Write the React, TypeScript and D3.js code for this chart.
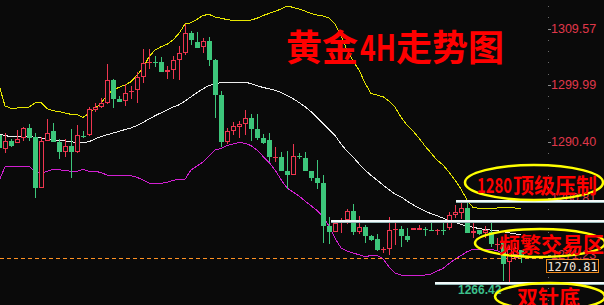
import React from "react";
import * as d3 from "d3";

// Gold 4H candles, index -1 .. 86 (left to right)
const firstIndex = -1;

const opens = [
  1291.51, 1289.19, 1290.49, 1290.21, 1291.0, 1292.7, 1291.17, 1282.58, 1290.54, 1292.19,
  1290.32, 1288.68, 1289.65, 1288.68, 1291.37, 1291.51, 1295.75, 1296.21, 1296.89, 1300.84,
  1297.61, 1297.33, 1298.75, 1299.09, 1301.4, 1303.72, 1303.89, 1303.84, 1302.24, 1302.53,
  1304.23, 1305.36, 1308.75, 1307.28, 1306.48, 1307.45, 1304.23, 1298.29, 1290.37, 1292.24,
  1292.92, 1293.41, 1294.36, 1292.53, 1291.05, 1290.66, 1287.61, 1287.83, 1285.46, 1284.78,
  1287.9, 1287.56, 1285.46, 1284.22, 1283.32, 1276.08, 1275.12, 1276.96, 1277.18, 1278.62,
  1275.12, 1275.86, 1274.35, 1273.88, 1272.01, 1272.1, 1275.44, 1275.52, 1274.39, 1275.4,
  1275.4, 1275.61, 1275.44, 1275.32, 1275.45, 1275.74, 1277.95, 1278.24, 1279.08, 1274.95,
  1275.4, 1274.84, 1275.12, 1272.89, 1273.15, 1269.98, 1271.25, 1272.01,
];
const highs = [
  1291.68, 1291.85, 1290.83, 1292.36, 1292.92, 1293.38, 1291.85, 1291.22, 1294.22, 1293.55,
  1290.83, 1290.83, 1292.53, 1293.21, 1292.19, 1296.21, 1296.94, 1297.78, 1303.55, 1301.01,
  1298.12, 1300.11, 1299.82, 1302.24, 1306.09, 1306.04, 1304.91, 1304.79, 1303.21, 1304.91,
  1306.6, 1310.33, 1309.19, 1308.97, 1308.01, 1308.21, 1304.4, 1298.97, 1292.75, 1293.8,
  1293.97, 1295.75, 1294.99, 1295.07, 1291.6, 1291.9, 1289.53, 1288.68, 1288.8, 1289.98,
  1288.51, 1288.68, 1285.46, 1287.27, 1284.73, 1277.66, 1276.93, 1277.52, 1278.91, 1279.81,
  1277.78, 1276.17, 1274.56, 1274.69, 1272.57, 1277.66, 1276.81, 1276.08, 1275.69, 1275.74,
  1276.25, 1275.96, 1276.81, 1275.52, 1276.93, 1278.51, 1279.64, 1279.93, 1279.9, 1276.54,
  1275.4, 1276.08, 1276.54, 1274.0, 1273.15, 1272.69, 1272.57, 1272.01,
];
const lows = [
  1289.14, 1288.46, 1289.53, 1290.15, 1290.54, 1290.54, 1280.88, 1282.5, 1290.54, 1290.27,
  1287.49, 1287.83, 1284.27, 1288.41, 1290.95, 1291.39, 1295.41, 1296.04, 1296.77, 1296.14,
  1297.16, 1296.48, 1297.61, 1296.99, 1300.38, 1302.65, 1303.09, 1302.24, 1301.01, 1300.95,
  1300.84, 1305.07, 1306.77, 1306.26, 1305.46, 1303.21, 1294.39, 1289.48, 1289.98, 1291.51,
  1291.05, 1291.43, 1290.58, 1290.66, 1289.98, 1286.98, 1286.98, 1285.46, 1282.36, 1284.7,
  1287.44, 1285.46, 1283.76, 1282.36, 1273.25, 1273.03, 1275.12, 1274.95, 1276.34, 1274.56,
  1274.73, 1273.15, 1273.62, 1271.89, 1271.55, 1271.16, 1272.86, 1272.57, 1273.42, 1275.37,
  1275.37, 1274.39, 1275.28, 1274.56, 1274.56, 1275.4, 1277.39, 1277.27, 1274.84, 1274.0,
  1274.56, 1274.0, 1272.57, 1272.01, 1266.84, 1266.42, 1270.32, 1269.81,
];
const closes = [
  1289.31, 1290.49, 1289.65, 1290.83, 1292.7, 1291.0, 1282.58, 1290.54, 1291.85, 1290.27,
  1288.68, 1289.65, 1288.68, 1291.51, 1291.29, 1295.87, 1296.21, 1296.89, 1300.84, 1297.61,
  1297.16, 1298.58, 1298.97, 1301.29, 1303.67, 1303.89, 1303.72, 1302.24, 1302.53, 1304.23,
  1305.41, 1308.75, 1307.62, 1306.31, 1307.45, 1304.23, 1298.29, 1290.37, 1292.19, 1293.04,
  1293.43, 1294.36, 1292.53, 1291.05, 1290.21, 1287.7, 1287.78, 1285.46, 1284.78, 1287.95,
  1287.78, 1285.46, 1284.22, 1283.37, 1276.08, 1275.12, 1276.54, 1277.1, 1278.62, 1275.12,
  1275.86, 1274.44, 1273.79, 1272.01, 1272.13, 1275.4, 1275.57, 1274.39, 1273.71, 1275.69,
  1275.69, 1275.52, 1275.35, 1275.4, 1275.35, 1277.95, 1278.51, 1279.08, 1274.84, 1275.23,
  1274.67, 1275.4, 1272.98, 1273.03, 1269.64, 1272.18, 1272.35, 1270.81,
];

// Bollinger bands, one value per candle
const upperBand = [
  1299.99, 1296.43, 1296.04, 1296.09, 1296.14, 1296.26, 1296.94, 1297.06, 1296.0, 1295.63,
  1295.5, 1295.24, 1295.02, 1295.02, 1294.51, 1295.19, 1296.04, 1296.89, 1298.29, 1299.14,
  1299.6, 1299.99, 1300.55, 1301.68, 1302.82, 1304.79, 1305.92, 1306.48, 1306.89, 1307.62,
  1308.75, 1310.33, 1310.55, 1311.13, 1311.77, 1311.98, 1311.52, 1311.3, 1311.09, 1310.92,
  1310.89, 1310.89, 1311.01, 1311.3, 1311.77, 1312.11, 1312.48, 1312.87, 1313.38, 1313.16,
  1312.87, 1312.53, 1312.11, 1311.86, 1311.69, 1311.35, 1310.33, 1308.3, 1305.92, 1304.06,
  1302.53, 1300.33, 1298.55, 1298.29, 1298.0, 1297.28, 1296.26, 1294.56, 1293.21, 1292.19,
  1291.0, 1289.65, 1288.46, 1287.27, 1286.42, 1285.24, 1283.88, 1282.36, 1280.49, 1279.22,
  1279.08, 1279.08, 1279.08, 1279.13, 1279.22, 1279.22, 1279.13, 1279.05,
];
const middleBand = [
  1291.68, 1291.43, 1291.22, 1291.22, 1291.22, 1291.22, 1291.14, 1291.04, 1290.76, 1290.68,
  1290.6, 1290.49, 1290.36, 1290.26, 1290.21, 1290.39, 1290.83, 1291.27, 1291.54, 1291.83,
  1292.14, 1292.43, 1292.71, 1293.12, 1293.63, 1294.24, 1294.77, 1295.27, 1295.78, 1296.26,
  1296.63, 1297.28, 1297.99, 1298.7, 1299.34, 1299.9, 1300.19, 1300.4, 1300.45, 1300.45,
  1300.45, 1300.45, 1300.24, 1299.87, 1299.58, 1299.34, 1299.11, 1298.72, 1298.24, 1297.68,
  1297.04, 1296.31, 1295.48, 1294.51, 1293.49, 1292.48, 1291.44, 1289.98, 1288.8, 1287.78,
  1286.64, 1285.58, 1284.66, 1283.88, 1283.03, 1282.27, 1281.47, 1281.03, 1280.32, 1279.68,
  1279.13, 1278.62, 1278.18, 1277.83, 1277.44, 1277.0, 1276.68, 1276.35, 1276.1, 1275.86,
  1275.66, 1275.49, 1275.39, 1275.28, 1275.12, 1274.93, 1274.76, 1274.56,
];
const lowerBand = [
  1283.71, 1286.14, 1286.25, 1286.25, 1286.25, 1286.25, 1285.29, 1285.02, 1285.32, 1285.7,
  1285.61, 1285.53, 1285.36, 1285.36, 1285.7, 1285.36, 1285.36, 1285.15, 1284.73, 1284.73,
  1284.73, 1284.69, 1284.59, 1284.34, 1283.88, 1283.37, 1283.32, 1283.32, 1283.49, 1283.8,
  1284.0, 1284.0, 1285.58, 1286.25, 1286.93, 1287.95, 1288.97, 1289.22, 1289.71, 1289.98,
  1290.24, 1290.1, 1289.73, 1288.97, 1287.9, 1286.88, 1285.58, 1283.97, 1282.52, 1281.85,
  1281.17, 1280.32, 1279.52, 1278.74, 1277.66, 1276.08, 1274.0, 1272.38, 1271.84, 1271.5,
  1271.22, 1270.88, 1271.08, 1271.1, 1270.52, 1269.16, 1268.11, 1267.77, 1267.77, 1267.77,
  1267.77, 1267.77, 1267.94, 1268.45, 1268.88, 1269.71, 1270.44, 1271.08, 1271.72, 1272.13,
  1272.13, 1272.13, 1272.13, 1271.89, 1271.5, 1271.06, 1270.79, 1270.57,
];

// Price axis
const axisTicks = [1309.57, 1299.99, 1290.4, 1280.81, 1271.23];
const lastPrice = 1270.81;
const pinLow = 1266.42;

// Drawn support / resistance levels (price, starting candle index)
const levelPrices = [1280.25, 1276.93, 1266.42];
const levelStarts = [75.2, 54.3, 71.7];

const titleParts = ["黄金", "4H", "走势图"];
const noteTop = ["1280", "顶级压制"];
const noteMid = "频繁交易区";
const noteLow = "双针底";

const W = 604;
const H = 305;
const BG = "#0a0a0a";
const UP = "#ee3650";
const DOWN = "#3dc67b";
const AXIS_X = 548;

export default function App() {
  const idx = d3.range(opens.length).map((k) => k + firstIndex);
  const x = d3.scaleLinear().domain([-1, 86]).range([-1, 521]);
  const y = d3.scaleLinear().domain([1266.42, 1309.57]).range([283, 28.5]);

  const bandLine = d3
    .line<number>()
    .x((_, k) => x(k + firstIndex))
    .y((v) => y(v));

  const step = (axisTicks[0] - axisTicks[1]) / 5;
  const minorTicks = d3
    .range(-40, 12)
    .map((k) => axisTicks[0] + k * step)
    .filter((p) => y(p) > 0 && y(p) < H);

  const cjk = "'Noto Sans CJK SC', 'Noto Sans', sans-serif";
  const yLast = Math.round(y(lastPrice)) + 1;

  return (
    <svg
      width={W}
      height={H}
      viewBox={`0 0 ${W} ${H}`}
      style={{ position: "fixed", left: 0, top: 0, display: "block", background: BG }}
    >
      <rect x={0} y={0} width={W} height={H} fill={BG} />

      {/* price axis: minor dots and labelled ticks */}
      {minorTicks.map((p, k) => (
        <rect key={`m${k}`} x={AXIS_X} y={Math.round(y(p))} width={1} height={1} fill="#6a6a6a" />
      ))}
      {axisTicks.map((t) => (
        <g key={`t${t}`}>
          <line x1={AXIS_X} x2={AXIS_X + 3} y1={Math.round(y(t)) + 0.5} y2={Math.round(y(t)) + 0.5} stroke="#8a8a8a" strokeWidth={1} />
          <text
            x={AXIS_X + 3}
            y={y(t)}
            dominantBaseline="central"
            fill="#e0384a"
            fontSize={12.5}
            fontFamily="'Liberation Sans', Arial, sans-serif"
          >
            {t.toFixed(2)}
          </text>
        </g>
      ))}

      {/* Bollinger bands */}
      <g fill="none" strokeWidth={1} shapeRendering="crispEdges">
        <path d={bandLine(upperBand) || ""} stroke="#e6e600" />
        <path d={bandLine(middleBand) || ""} stroke="#eeeeee" />
        <path d={bandLine(lowerBand) || ""} stroke="#d21fd2" />
      </g>

      {/* last price dashed line */}
      <line
        x1={0}
        x2={AXIS_X - 2}
        y1={yLast + 0.5}
        y2={yLast + 0.5}
        stroke="#ff9122"
        strokeWidth={1}
        strokeDasharray="4,3"
        shapeRendering="crispEdges"
      />

      {/* candles */}
      <g shapeRendering="crispEdges">
        {idx.map((i, k) => {
          const o = opens[k];
          const c = closes[k];
          const cx = Math.round(x(i));
          const up = c >= o;
          const col = up ? UP : DOWN;
          const top = Math.round(y(Math.max(o, c)));
          const bot = Math.round(y(Math.min(o, c)));
          const hgt = bot - top;
          return (
            <g key={`c${i}`}>
              <line x1={cx + 0.5} x2={cx + 0.5} y1={y(highs[k])} y2={y(lows[k])} stroke={col} strokeWidth={1} />
              {up && hgt >= 3 ? (
                <rect x={cx - 1.5} y={top + 0.5} width={4} height={hgt - 1} fill={BG} stroke={col} strokeWidth={1} />
              ) : (
                <rect x={cx - 2} y={top} width={5} height={Math.max(1, hgt)} fill={col} />
              )}
            </g>
          );
        })}
      </g>

      {/* horizontal levels */}
      {levelPrices.map((p, k) => {
        const yy = Math.round(y(p));
        const x0 = x(levelStarts[k]);
        return (
          <g key={`l${k}`} shapeRendering="crispEdges">
            <line x1={x0} x2={W} y1={yy + 0.5} y2={yy + 0.5} stroke="#98b8b8" strokeWidth={3} />
            <line x1={x0} x2={W} y1={yy} y2={yy} stroke="#f2fbfb" strokeWidth={1.5} />
          </g>
        );
      })}

      <text
        x={x(75.5)}
        y={y(pinLow) + 7}
        dominantBaseline="central"
        fill="#3cbf8b"
        fontSize={12}
        fontWeight="bold"
        fontFamily="'Liberation Sans', Arial, sans-serif"
      >
        {pinLow.toFixed(2)}
      </text>

      {/* last price box */}
      <rect x={546.5} y={yLast + 1.5} width={52} height={13} fill={BG} stroke="#f08a1c" strokeWidth={1} />
      <text
        x={572.5}
        y={yLast + 8.5}
        textAnchor="middle"
        dominantBaseline="central"
        fill="#f2e6da"
        fontSize={12}
        fontFamily="'DejaVu Sans Mono', monospace"
      >
        {lastPrice.toFixed(2)}
      </text>

      {/* title */}
      <g fill="#ff0000" fontSize={36} fontWeight={700} fontFamily={cjk}>
        <text x={286} y={45} dominantBaseline="central">{titleParts[0]}</text>
        <text x={360} y={45} dominantBaseline="central" textLength={36} lengthAdjust="spacingAndGlyphs">
          {titleParts[1]}
        </text>
        <text x={396} y={45} dominantBaseline="central">{titleParts[2]}</text>
      </g>

      {/* callouts */}
      <g fill="none" stroke="#ffff00" strokeWidth={2.5}>
        <ellipse cx={534} cy={182.5} rx={69} ry={17.5} />
        <ellipse cx={540} cy={243} rx={65} ry={14} />
        <ellipse cx={550} cy={296.5} rx={55} ry={13.5} />
      </g>
      <g fill="#ff0000" fontSize={21} fontWeight="bold" fontFamily={cjk}>
        <text x={477} y={183.5} dominantBaseline="central" textLength={35} lengthAdjust="spacingAndGlyphs">
          {noteTop[0]}
        </text>
        <text x={513} y={183.5} dominantBaseline="central">{noteTop[1]}</text>
        <text x={499} y={243} dominantBaseline="central">{noteMid}</text>
        <text x={517} y={295.5} dominantBaseline="central">{noteLow}</text>
      </g>
    </svg>
  );
}
